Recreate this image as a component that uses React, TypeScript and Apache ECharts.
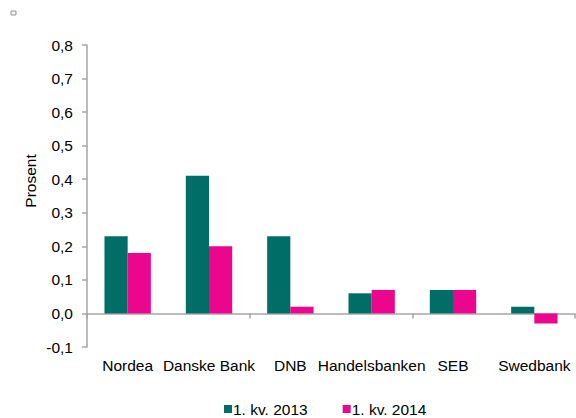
import React, { useEffect, useRef } from "react";
import * as echarts from "echarts";

const categories = ["Nordea", "Danske Bank", "DNB", "Handelsbanken", "SEB", "Swedbank"];
const series2013 = [0.23, 0.41, 0.23, 0.06, 0.07, 0.02];
const series2014 = [0.18, 0.2, 0.02, 0.07, 0.07, -0.03];
const seriesNames = ["1. kv. 2013", "1. kv. 2014"];
const colors = ["#006e66", "#ec068d"];

const FONT = "'Liberation Sans', Arial, sans-serif";
const axisColor = "#a6a6a6";

export default function App() {
  const ref = useRef<HTMLDivElement>(null);
  useEffect(() => {
    if (!ref.current) return;
    const chart = echarts.init(ref.current, undefined, { renderer: "svg" });
    chart.setOption({
      animation: false,
      textStyle: { fontFamily: FONT },
      grid: { left: 87, right: 1, top: 45, bottom: 71 },
      legend: {
        top: 396,
        left: 219,
        itemWidth: 8,
        itemHeight: 8,
        itemGap: 35,
        icon: "rect",
        textStyle: { fontSize: 15.5, color: "#000", fontFamily: FONT, padding: [0, 0, 0, -4] },
        data: seriesNames,
      },
      xAxis: [
        {
          type: "category",
          data: categories,
          position: "bottom",
          axisLine: { show: false, onZero: false },
          axisTick: { show: false },
          axisLabel: { fontSize: 15.5, color: "#000", margin: 10, fontFamily: FONT, interval: 0 },
        },
        {
          type: "category",
          data: categories,
          position: "top",
          axisLine: { show: true, onZero: true, lineStyle: { color: axisColor, width: 1.5 } },
          axisTick: { show: true, inside: true, length: 5, lineStyle: { color: axisColor, width: 1.5 } },
          axisLabel: { show: false },
        },
      ],
      yAxis: {
        type: "value",
        min: -0.1,
        max: 0.8,
        interval: 0.1,
        splitLine: { show: false },
        axisLine: { show: true, lineStyle: { color: axisColor, width: 1.5 } },
        axisTick: { show: true, length: 5, lineStyle: { color: axisColor, width: 1.5 } },
        axisLabel: {
          fontSize: 15.5,
          color: "#000",
          margin: 14,
          fontFamily: FONT,
          formatter: (v: number) => v.toFixed(1).replace(".", ","),
        },
      },
      series: [
        {
          name: seriesNames[0],
          type: "bar",
          xAxisIndex: 0,
          data: series2013,
          itemStyle: { color: colors[0] },
          barGap: "0%",
          barCategoryGap: "43%",
        },
        {
          name: seriesNames[1],
          type: "bar",
          xAxisIndex: 0,
          data: series2014,
          itemStyle: { color: colors[1] },
          barGap: "0%",
          barCategoryGap: "43%",
        },
      ],
      graphic: [
        {
          type: "text",
          x: 30,
          y: 181,
          rotation: Math.PI / 2,
          style: {
            text: "Prosent",
            fontSize: 15.5,
            fill: "#000",
            fontFamily: FONT,
            textAlign: "center",
            textVerticalAlign: "middle",
          },
        },
        {
          type: "rect",
          shape: { x: 11, y: 11, width: 5, height: 4 },
          style: { fill: "#f2f2f2", stroke: "#999", lineWidth: 1 },
        },
      ],
    });
    return () => chart.dispose();
  }, []);
  return <div ref={ref} style={{ width: 576, height: 418, position: "absolute", left: 0, top: 0 }} />;
}
